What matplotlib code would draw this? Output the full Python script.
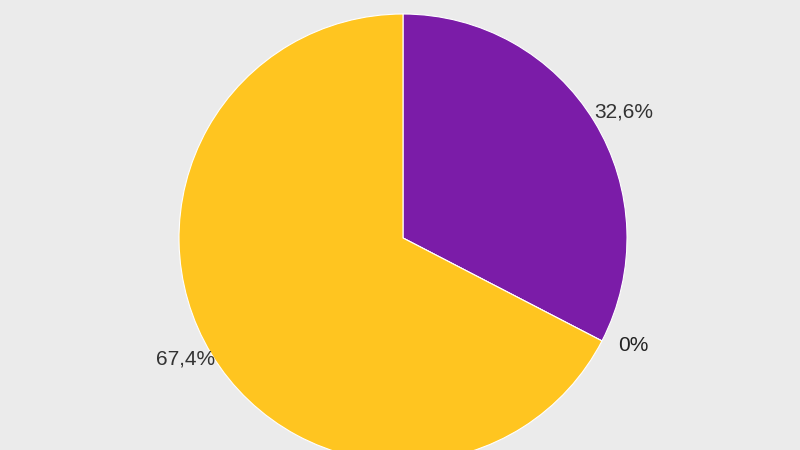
import matplotlib.pyplot as plt

# Slice data (clockwise from 12 o'clock)
categories = ['A', 'B', 'C']
shares = [32.6, 0.0, 67.4]
colors = ['#7b1ca8', '#3366cc', '#ffc520']

# small nudges (px) so the labels sit where the original renderer put them
label_nudge = [(3, -7), (4, 10), (1, 12)]


def fmt_pct(p):
    if p < 0.05:
        return '0%'
    return f'{p:.1f}%'.replace('.', ',')


fig = plt.figure(figsize=(8, 4.5), dpi=100)
fig.patch.set_facecolor('#ebebeb')
ax = fig.add_axes([0, 0, 1, 1])
ax.set_facecolor('#ebebeb')

wedges, texts, autotexts = ax.pie(
    shares, colors=colors, startangle=90, counterclock=False,
    radius=224, center=(403, 212),
    autopct=fmt_pct, pctdistance=1.14,
    wedgeprops=dict(edgecolor='white', linewidth=0.8),
    textprops=dict(fontsize=15, color='#333333', family='Liberation Sans'),
)
autotexts[1].set_color('#222222')

for t, (dx, dy) in zip(autotexts, label_nudge):
    x, y = t.get_position()
    t.set_position((x + dx, y + dy))

ax.set_xlim(0, 800)
ax.set_ylim(0, 450)
ax.set_aspect('equal')
ax.axis('off')

fig.savefig('out.png', dpi=100, facecolor=fig.get_facecolor())
